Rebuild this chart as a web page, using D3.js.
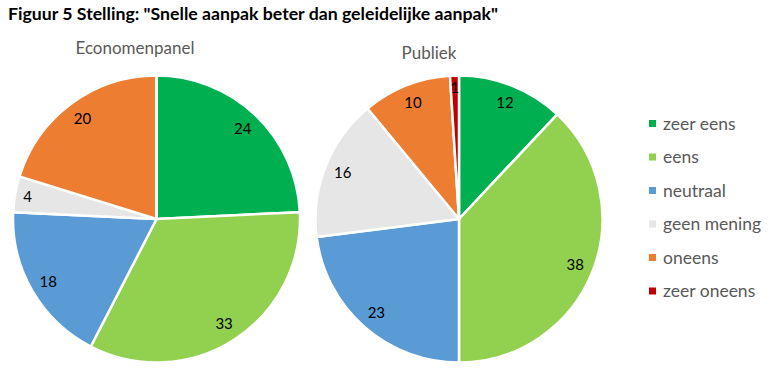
<!DOCTYPE html>
<html><head><meta charset="utf-8">
<script src="https://cdn.jsdelivr.net/npm/d3@7"></script>
<style>body{margin:0;background:#fff}</style>
</head><body><svg id="c" width="774" height="370"></svg>
<script>
const categories = ["zeer eens","eens","neutraal","geen mening","oneens","zeer oneens"];
const colors = ["#00B050","#92D050","#5B9BD5","#E7E6E6","#ED7D31","#C00000"];
const economenValues = [24,33,18,4,20,0];
const publiekValues = [12,38,23,16,10,1];
const titleText = 'Figuur 5 Stelling: "Snelle aanpak beter dan geleidelijke aanpak"';

const svg = d3.select("#c");
svg.append("rect").attr("width",774).attr("height",370).attr("fill","#fff");
const font = "Lato, Calibri, Carlito, sans-serif";

svg.append("text").attr("x",8).attr("y",19.5).attr("font-family",font)
  .attr("font-weight","bold").attr("font-size",17.7).attr("fill","#000").text(titleText);

const R = 143.5, labelR = 125;
const pie = d3.pie().sort(null).value(d=>d.v);
const arc = d3.arc().innerRadius(0).outerRadius(R);

function drawPie(cx, cy, values, title, tx, ty){
  const g = svg.append("g").attr("transform",`translate(${cx},${cy})`);
  const data = pie(values.map((v,i)=>({v, c:colors[i], k:categories[i]})));
  g.selectAll("path").data(data).join("path")
    .attr("d",arc).attr("fill",d=>d.data.c).attr("stroke","#fff").attr("stroke-width",2.5)
    .attr("stroke-linejoin","round");
  g.selectAll("text.lab").data(data.filter(d=>d.data.v>0)).join("text").attr("class","lab")
    .attr("transform",d=>{const a=(d.startAngle+d.endAngle)/2; const r = d.data.v<6? labelR+6 : labelR;
      return `translate(${Math.sin(a)*r},${-Math.cos(a)*r})`;})
    .attr("text-anchor","middle").attr("dy","0.35em")
    .attr("font-family",font).attr("font-size",15).attr("fill","#000")
    .text(d=>d.data.v);
  svg.append("text").attr("x",tx).attr("y",ty).attr("text-anchor","middle")
    .attr("font-family",font).attr("font-size",17).attr("fill","#595959").text(title);
}
drawPie(156.5, 219, economenValues, "Economenpanel", 135, 54);
drawPie(459, 219, publiekValues, "Publiek", 429, 58.5);

const leg = svg.append("g");
const rows = leg.selectAll("g").data(categories).join("g")
  .attr("transform",(d,i)=>`translate(649,${123.5 + i*33.5})`);
rows.append("rect").attr("x",0).attr("y",-3.5).attr("width",7).attr("height",7)
  .attr("fill",(d,i)=>colors[i]);
rows.append("text").attr("x",14).attr("dy","0.35em").attr("font-family",font)
  .attr("font-size",17.5).attr("fill","#595959").text(d=>d);
</script></body></html>
